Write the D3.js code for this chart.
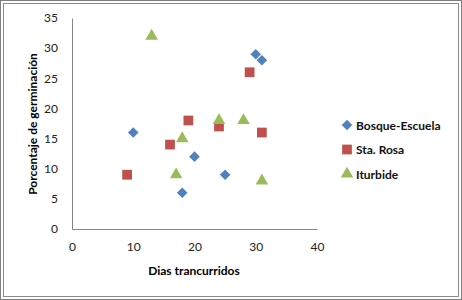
<!DOCTYPE html>
<html>
<head>
<meta charset="utf-8">
<script src="https://cdn.jsdelivr.net/npm/d3@7"></script>
<style>
  body { margin: 0; background: #fff; }
  svg { display: block; }
</style>
</head>
<body>
<div id="chart"></div>
<script>
const width = 462;
const height = 300;
const marginLeft = 72;
const marginTop = 18;
const plotRight = 317;
const plotBottom = 229;

const seriesNames = ['Bosque-Escuela', 'Sta. Rosa', 'Iturbide'];
const bosqueX = [10, 20, 25, 18, 30, 31];
const bosqueY = [16, 12, 9, 6, 29, 28];
const rosaX = [9, 29, 19, 24, 31, 16];
const rosaY = [9, 26, 18, 17, 16, 14];
const iturbideX = [13, 18, 24, 28, 17, 31];
const iturbideY = [32, 15, 18, 18, 9, 8];
const xTicks = [0, 10, 20, 30, 40];
const yTicks = [0, 5, 10, 15, 20, 25, 30, 35];

// diamond = square turned 45 degrees
const series = [
    { name: seriesNames[0], xs: bosqueX, ys: bosqueY, color: '#4F81BD', symbol: d3.symbolSquare, size: 56, rot: 45 },
    { name: seriesNames[1], xs: rosaX, ys: rosaY, color: '#C0504D', symbol: d3.symbolSquare, size: 95, rot: 0 },
    { name: seriesNames[2], xs: iturbideX, ys: iturbideY, color: '#9BBB59', symbol: d3.symbolTriangle, size: 68, rot: 0 },
];

const svg = d3.select('#chart')
    .append('svg')
    .attr('width', width)
    .attr('height', height);

// double frame
svg.append('rect')
    .attr('x', 0.5).attr('y', 0.5)
    .attr('width', width - 1).attr('height', height - 1)
    .attr('fill', 'none').attr('stroke', '#7f7f7f');
svg.append('rect')
    .attr('x', 3.5).attr('y', 3.5)
    .attr('width', width - 7).attr('height', height - 7)
    .attr('fill', 'none').attr('stroke', '#8a8a8a');

const x = d3.scaleLinear()
    .domain([0, 40])
    .range([marginLeft, plotRight]);

const y = d3.scaleLinear()
    .domain([0, 35])
    .range([plotBottom, marginTop]);

const font = 'Lato, "Open Sans", sans-serif';

svg.append('g')
    .attr('class', 'xAxis')
    .attr('transform', `translate(0,${plotBottom})`)
    .call(d3.axisBottom(x).tickValues(xTicks).tickSize(0).tickPadding(13))
    .call((g) => g.select('.domain').attr('stroke', '#868686'))
    .selectAll('text')
    .style('font-size', '12px')
    .style('font-family', font)
    .attr('fill', '#222');

svg.append('g')
    .attr('class', 'yAxis')
    .attr('transform', `translate(${marginLeft}, 0)`)
    .call(d3.axisLeft(y).tickValues(yTicks).tickSize(0).tickPadding(14))
    .call((g) => g.select('.domain').attr('stroke', '#868686'))
    .selectAll('text')
    .style('font-size', '12px')
    .style('font-family', font)
    .attr('fill', '#222');

series.forEach((s) => {
    svg.append('g')
        .selectAll()
        .data(s.xs.map((v, i) => [v, s.ys[i]]))
        .enter()
        .append('path')
        .attr('d', d3.symbol().type(s.symbol).size(s.size))
        .attr('transform', (d) => `translate(${x(d[0])},${y(d[1])}) rotate(${s.rot})`)
        .attr('fill', s.color);
});

const legend = svg.append('g')
    .attr('class', 'legend')
    .attr('transform', 'translate(347, 125)');

series.forEach((s, i) => {
    const row = legend.append('g').attr('transform', `translate(0, ${i * 24.5})`);
    row.append('path')
        .attr('d', d3.symbol().type(s.symbol).size(s.size))
        .attr('transform', `rotate(${s.rot})`)
        .attr('fill', s.color);
    row.append('text')
        .attr('x', 9)
        .attr('y', 4.5)
        .text(s.name)
        .style('font-size', '12px')
        .style('font-family', font)
        .style('font-weight', 'bold')
        .attr('fill', '#111');
});

svg.append('text')
    .attr('class', 'ylabel')
    .attr('x', -124)
    .attr('y', 37)
    .text('Porcentaje de germinación')
    .attr('transform', 'rotate(-90)')
    .style('font-size', '12px')
    .style('font-weight', 'bold')
    .style('text-anchor', 'middle')
    .style('font-family', font);

svg.append('text')
    .attr('class', 'xlabel')
    .attr('x', 194)
    .attr('y', 275)
    .text('Dias trancurridos')
    .style('font-size', '12px')
    .style('font-weight', 'bold')
    .style('text-anchor', 'middle')
    .style('font-family', font);
</script>
</body>
</html>
